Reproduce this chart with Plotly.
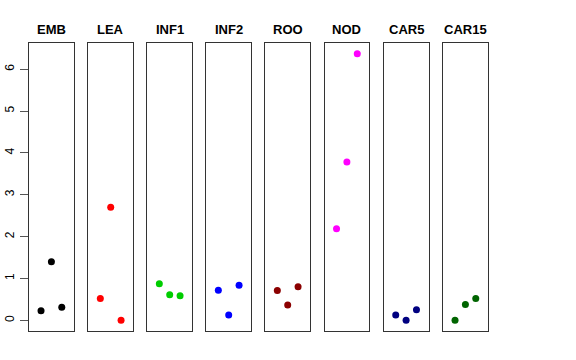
import plotly.graph_objects as go

tissues = ["EMB", "LEA", "INF1", "INF2", "ROO", "NOD", "CAR5", "CAR15"]
colors = ["#000000", "#FF0000", "#00CD00", "#0000FF", "#8B0000", "#FF00FF", "#000080", "#006400"]
rep_x = [1, 2, 3]
values = {
    "EMB": [0.23, 1.40, 0.31],
    "LEA": [0.52, 2.70, 0.00],
    "INF1": [0.875, 0.61, 0.59],
    "INF2": [0.72, 0.127, 0.84],
    "ROO": [0.71, 0.366, 0.80],
    "NOD": [2.19, 3.78, 6.37],
    "CAR5": [0.127, 0.00, 0.25],
    "CAR15": [0.00, 0.38, 0.52],
}
y_ticks = [0, 1, 2, 3, 4, 5, 6]

W, H = 576, 360
lefts = [29, 88.3, 147.3, 206.3, 265.3, 324.5, 383.7, 443.0]
pw = 44.8
top_px, bot_px = 43, 331

fig = go.Figure()
ymin, ymax = -0.255, 6.625
for i, t in enumerate(tissues):
    idx = "" if i == 0 else str(i + 1)
    fig.add_trace(go.Scatter(
        x=rep_x, y=values[t], mode="markers",
        marker=dict(color=colors[i], size=7, line=dict(width=0)),
        xaxis="x" + idx, yaxis="y" + idx, showlegend=False,
    ))
    dom = [lefts[i] / W, (lefts[i] + pw) / W]
    fig.update_layout(**{
        "xaxis" + idx: dict(domain=dom, range=[-0.16, 4.16], showticklabels=False,
                            ticks="", showgrid=False, zeroline=False, automargin=False,
                            showline=True, mirror=True, linecolor="#333333", linewidth=1,
                            anchor="y" + idx, fixedrange=True),
        "yaxis" + idx: dict(domain=[1 - bot_px / H, 1 - top_px / H], range=[ymin, ymax],
                            showgrid=False, zeroline=False, automargin=False,
                            showline=True, mirror=True, linecolor="#333333", linewidth=1,
                            anchor="x" + idx,
                            showticklabels=(i == 0),
                            ticks="outside" if i == 0 else "",
                            tickvals=y_ticks if i == 0 else None,
                            ticklen=8, tickcolor="#555555", tickwidth=1,
                            tickangle=-90, ticklabelstandoff=1,
                            tickfont=dict(family="Liberation Sans, Arial", size=12, color="#000000"),
                            fixedrange=True),
    })
    fig.add_annotation(text="<b>" + t + "</b>", x=(lefts[i] + pw / 2) / W, y=1 - 29.5 / H,
                       xref="paper", yref="paper", showarrow=False,
                       font=dict(family="Liberation Sans, Arial", size=13, color="#000000"),
                       xanchor="center", yanchor="middle")

fig.update_layout(width=W, height=H, margin=dict(l=0, r=0, t=0, b=0, autoexpand=False),
                  paper_bgcolor="white", plot_bgcolor="white")
fig.write_html("out.html", config={"displayModeBar": False},
               post_script="document.body.style.margin='0px';")
